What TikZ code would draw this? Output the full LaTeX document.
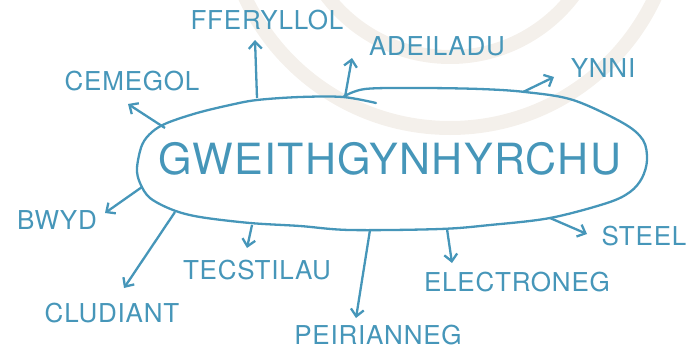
\documentclass[tikz,border=0pt]{standalone}
\usepackage{fontspec}
\newfontfamily\handfont{TeX Gyre Heros}[LetterSpace=3]
\usetikzlibrary{arrows.meta}

\definecolor{ink}{RGB}{70,150,185}
\definecolor{ringcol}{RGB}{244,240,235}

\tikzset{
  branch/.style={inner sep=0pt, text=ink, font=\handfont\fontsize{26}{26}\selectfont},
  hubtext/.style={inner sep=0pt, text=ink, font=\handfont\fontsize{43}{43}\selectfont},
  spoke/.style={draw=ink, line width=2.3pt, -{Straight Barb[length=7pt,width=13pt]}},
}

\begin{document}
\begin{tikzpicture}[x=1pt, y=-1pt]

\useasboundingbox (0,0) rectangle (695,351);

%% faint rings behind
\begin{scope}
\clip (0,0) rectangle (695,351);
\draw[ringcol, line width=14pt] (450,-98) circle[radius=226pt];
\draw[ringcol, line width=14pt] (450,-98) circle[radius=155pt];
\end{scope}

%% centre word and its loop
\node[hubtext] (hub) at (390,159) {GWEITHGYNHYRCHU};
\draw[ink, line width=2.3pt, line cap=round] plot[smooth, tension=0.55] coordinates {
  (343,97) (365,89) (420,88) (480,89) (525,92) (573,100) (623,123) (643,140)
  (647,160) (642,178) (630,192) (607,203) (550,218) (490,225) (440,229)
  (350,230) (300,226) (250,223) (200,217) (173,210) (150,198) (140,183)
  (137,168) (142,145) (152,132) (167,123) (197,113) (230,105) (257,100)
  (300,97) (343,97) (376,103)};

%% branch words
\node[branch] (ffer)  at (267,20)  {FFERYLLOL};
\node[branch] (adei)  at (437,46)  {ADEILADU};
\node[branch] (ynni)  at (603,68)  {YNNI};
\node[branch] (ceme)  at (132,81)  {CEMEGOL};
\node[branch] (bwyd)  at (57,220)  {BWYD};
\node[branch] (clud)  at (112,313) {CLUDIANT};
\node[branch] (tecs)  at (257,270) {TECSTILAU};
\node[branch] (peir)  at (378,335) {PEIRIANNEG};
\node[branch] (elec)  at (517,282) {ELECTRONEG};
\node[branch] (steel) at (644,236) {STEEL};

%% arrow feet on the loop
\coordinate (sFfer)  at (257,98);
\coordinate (sAdei)  at (345,97);
\coordinate (sYnni)  at (523,92);
\coordinate (sCeme)  at (165,128);
\coordinate (sBwyd)  at (142,187);
\coordinate (sClud)  at (175,212);
\coordinate (sTecs)  at (252,225);
\coordinate (sPeir)  at (370,230);
\coordinate (sElec)  at (447,229);
\coordinate (sSteel) at (550,218);

%% arrow tips
\coordinate (tFfer)  at (255,40);
\coordinate (tAdei)  at (352,58);
\coordinate (tYnni)  at (554,77);
\coordinate (tCeme)  at (128,104);
\coordinate (tBwyd)  at (105,213);
\coordinate (tClud)  at (124,288);
\coordinate (tTecs)  at (247,248);
\coordinate (tPeir)  at (356,318);
\coordinate (tElec)  at (452,263);
\coordinate (tSteel) at (587,234);

% arrows
\draw[spoke] (sFfer) -- (tFfer);
\draw[spoke] (sAdei) -- (tAdei);
\draw[spoke] (sYnni) -- (tYnni);
\draw[spoke] (sCeme) -- (tCeme);
\draw[spoke] (sBwyd) -- (tBwyd);
\draw[spoke] (sClud) -- (tClud);
\draw[spoke] (sTecs) -- (tTecs);
\draw[spoke] (sPeir) -- (tPeir);
\draw[spoke] (sElec) -- (tElec);
\draw[spoke] (sSteel) -- (tSteel);

\end{tikzpicture}
\end{document}
